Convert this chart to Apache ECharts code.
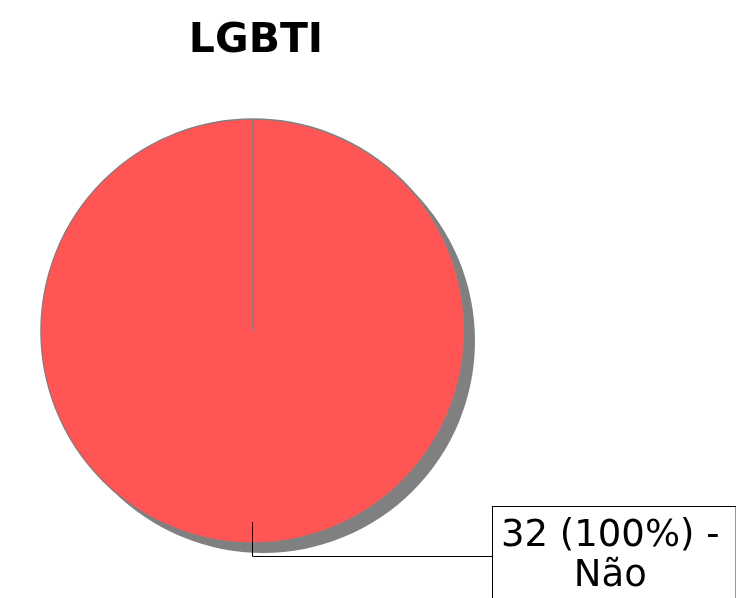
<!DOCTYPE html>
<html>
<head>
<meta charset="utf-8">
<script src="https://cdn.jsdelivr.net/npm/echarts@6/dist/echarts.min.js"></script>
<style>
  html, body { margin: 0; padding: 0; background: #fff; }
  #chart { width: 736px; height: 598px; }
</style>
</head>
<body>
<div id="chart"></div>
<script>
// data
const chartTitle = 'LGBTI';
const categories = ['Não'];
const values = [32];

// layout
const center = [253, 331];
const radius = 212;
const shadowOffset = 10;
const lineInset = 21;

const chart = echarts.init(document.getElementById('chart'));

const seriesData = categories.map((name, i) => ({ name: name, value: values[i] }));

const lineX = center[0] - 0.5;

const option = {
  animation: false,
  title: {
    text: chartTitle,
    left: 251,
    top: 16,
    textAlign: 'center',
    textStyle: {
      fontFamily: 'DejaVu Sans',
      fontWeight: 'bold',
      fontSize: 41,
      color: '#000'
    }
  },
  series: [
    {
      // sombra
      type: 'pie',
      silent: true,
      center: [center[0] + shadowOffset, center[1] + shadowOffset],
      radius: radius,
      startAngle: 90,
      label: { show: false },
      labelLine: { show: false },
      itemStyle: { color: '#808080' },
      data: seriesData,
      z: 1
    },
    {
      type: 'pie',
      center: center,
      radius: radius,
      startAngle: 90,
      clockwise: true,
      itemStyle: {
        color: '#ff5555',
        borderColor: '#808080',
        borderWidth: 1.5
      },
      label: {
        show: true,
        position: 'outside',
        formatter: '{c} ({d}%) -\n{b}',
        fontFamily: 'DejaVu Sans',
        fontSize: 37,
        lineHeight: 40,
        color: '#000',
        align: 'center',
        backgroundColor: '#fff',
        borderColor: '#000',
        borderWidth: 1,
        padding: [9, 16, 6, 8]
      },
      labelLine: {
        show: true,
        showAbove: true,
        lineStyle: { color: '#000', width: 1 }
      },
      labelLayout: function (params) {
        const lineY = center[1] + radius + 13.5;
        const boxX = 492;
        return {
          x: boxX + params.labelRect.width / 2,
          y: 507,
          align: 'center',
          verticalAlign: 'top',
          labelLinePoints: [
            [lineX, center[1] + radius - lineInset],
            [lineX, lineY],
            [boxX, lineY]
          ]
        };
      },
      data: seriesData,
      z: 2
    }
  ],
  graphic: [
    {
      type: 'line',
      z: 100,
      shape: { x1: center[0], y1: center[1], x2: center[0], y2: center[1] - radius },
      style: { stroke: '#808080', lineWidth: 1.5 }
    },
    {
      // trecho da linha do rótulo dentro da pizza
      type: 'line',
      z: 100,
      shape: { x1: lineX, y1: center[1] + radius - lineInset, x2: lineX, y2: center[1] + radius + 1 },
      style: { stroke: '#000', lineWidth: 1 }
    }
  ]
};

chart.setOption(option);
</script>
</body>
</html>
